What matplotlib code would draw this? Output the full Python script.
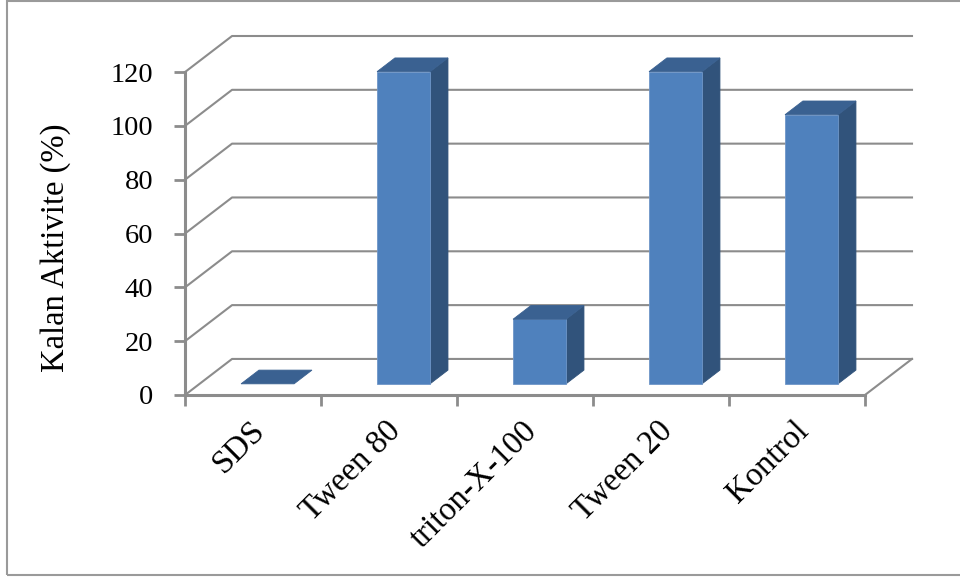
import matplotlib
matplotlib.use("Agg")
import matplotlib.pyplot as plt
from matplotlib.patches import Polygon, Rectangle

categories = ["SDS", "Tween 80", "triton-X-100", "Tween 20", "Kontrol"]
values = [0, 116, 24, 116, 100]
y_ticks = [0, 20, 40, 60, 80, 100, 120]

# pseudo-3D geometry (category units / value units)
D = 0.346      # depth shift in x
H = 13.4       # depth shift in y
BW = 0.39      # bar width
F0, F1 = 0.31, 0.69  # bar front/back depth fractions

FRONT = "#4F81BD"
SIDE = "#31537B"
TOP = "#3A6191"
GRID = "#8C8C8C"

plt.rcParams["font.family"] = ["Liberation Serif", "DejaVu Serif"]

fig = plt.figure(figsize=(9.6, 5.79), dpi=100)
W, Hpx = 960, 579
ax = fig.add_axes([185 / W, (579 - 395) / Hpx, 727 / W, 359 / Hpx])
n = len(categories)
ax.set_xlim(0, n + D)
ax.set_ylim(0, 120 + H)
for s in ax.spines.values():
    s.set_visible(False)

# back wall gridlines + side diagonals
for v in y_ticks:
    ax.plot([0, D, n + D], [v, v + H, v + H], color=GRID, lw=1.5,
            clip_on=False, zorder=1)
# floor right edge
ax.plot([n, n + D], [0, H], color=GRID, lw=1.5, clip_on=False, zorder=1)
# front floor edge and value axis
ax.plot([0, n], [0, 0], color=GRID, lw=2.2, clip_on=False, zorder=2)
ax.plot([0, 0], [0, 120], color=GRID, lw=2.2, clip_on=False, zorder=2)

# ticks
ax.set_yticks(y_ticks)
ax.set_yticklabels([str(v) for v in y_ticks], fontsize=20.5)
ax.tick_params(axis="y", direction="out", length=8, width=2, color=GRID,
               pad=15)
ax.set_xticks(range(n + 1))
ax.set_xticklabels([])
ax.tick_params(axis="x", direction="out", length=8, width=2, color=GRID)

for i, (cat, v) in enumerate(zip(categories, values)):
    c = i + 0.5
    ax.annotate(cat, xy=(c, 0), xytext=(7, -31), textcoords="offset pixels",
                ha="right", va="center", rotation=45, rotation_mode="anchor",
                fontsize=23.5)

    x0 = c - BW / 2 + F0 * D
    x1 = c + BW / 2 + F0 * D
    y0 = F0 * H
    dx = (F1 - F0) * D
    dy = (F1 - F0) * H
    front = Polygon([(x0, y0), (x1, y0), (x1, y0 + v), (x0, y0 + v)],
                    closed=True, facecolor=FRONT, edgecolor="#6F96C8", lw=0.6, zorder=3)
    side = Polygon([(x1, y0), (x1 + dx, y0 + dy), (x1 + dx, y0 + dy + v), (x1, y0 + v)],
                   closed=True, facecolor=SIDE, edgecolor=SIDE, lw=0.6, zorder=3)
    top = Polygon([(x0, y0 + v), (x1, y0 + v), (x1 + dx, y0 + dy + v), (x0 + dx, y0 + dy + v)],
                  closed=True, facecolor=TOP, edgecolor=TOP, lw=0.6, zorder=4)
    for p in (side, front, top):
        if v > 0 or p is top:
            ax.add_patch(p)

fig.text(56 / W, 1 - 248 / Hpx, "Kalan Aktivite (%)", rotation=90,
         ha="center", va="center", fontsize=23.5)

fig.patches.append(Rectangle((7 / W, 4 / Hpx), 960 / W, 574 / Hpx,
                             transform=fig.transFigure, fill=False,
                             edgecolor="#9A9A9A", lw=1.5))

fig.savefig("out.png", dpi=100)
